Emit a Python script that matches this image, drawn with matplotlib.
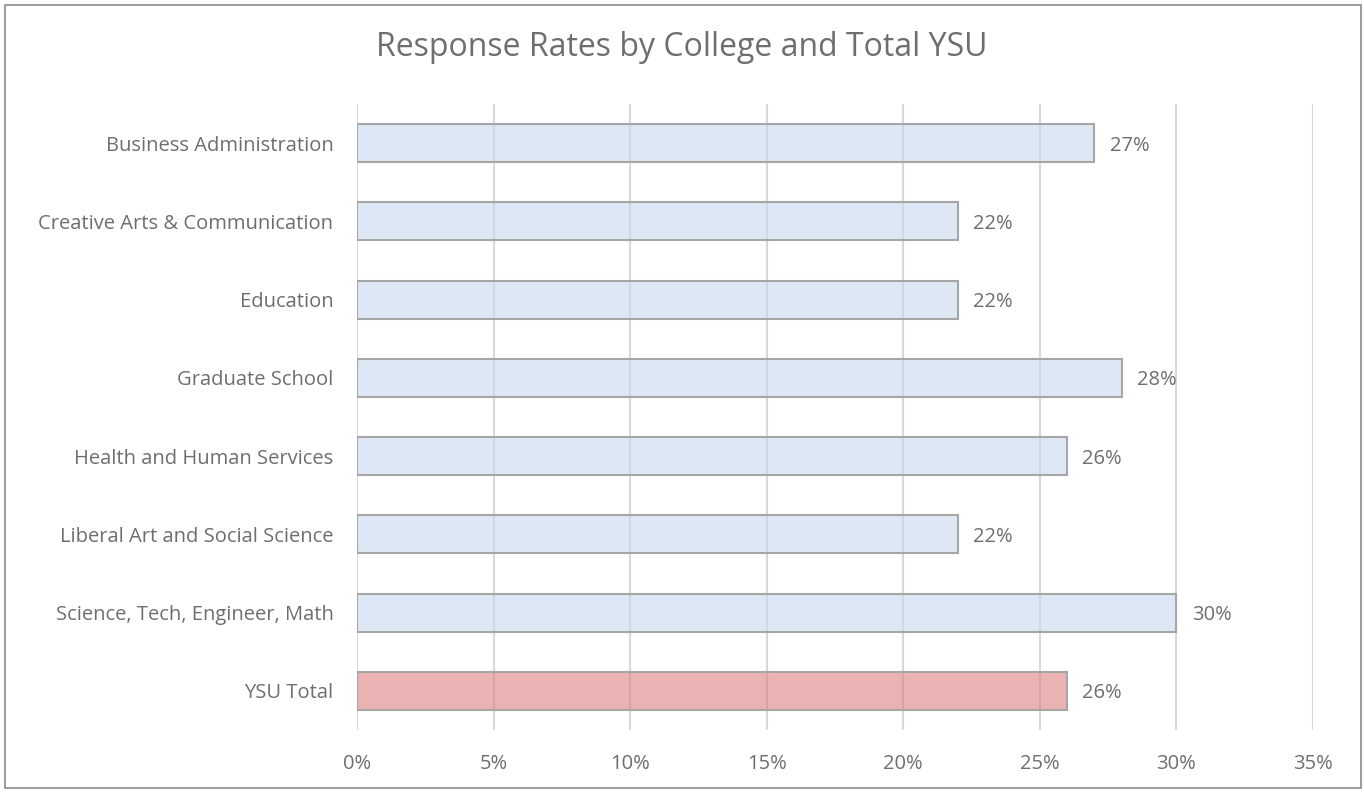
import matplotlib.pyplot as plt
from matplotlib.patches import Rectangle
from matplotlib.ticker import FuncFormatter

# data
colleges = ['Business Administration', 'Creative Arts & Communication', 'Education',
            'Graduate School', 'Health and Human Services', 'Liberal Art and Social Science',
            'Science, Tech, Engineer, Math', 'YSU Total']
rates = [27, 22, 22, 28, 26, 22, 30, 26]
xticks = [0, 5, 10, 15, 20, 25, 30, 35]

plt.rcParams['font.family'] = ['Open Sans', 'DejaVu Sans']
TEXT = '#6E6E6E'

fig = plt.figure(figsize=(13.64, 7.92), dpi=100)
ax = fig.add_axes([357 / 1364, 1 - 730 / 792, (1313 - 357) / 1364, (730 - 104) / 792])

ypos = list(range(len(colleges)))
faces = [(200 / 255, 217 / 255, 237 / 255, 0.6)] * (len(colleges) - 1) + [(220 / 255, 127 / 255, 127 / 255, 0.6)]
ax.barh(ypos, rates, height=0.485, color=faces, edgecolor='#A6A6A6', linewidth=1.5, zorder=2)

for y, v in zip(ypos, rates):
    ax.annotate('%d%%' % v, (v, y), xytext=(11, 0), textcoords='offset points',
                va='center_baseline', ha='left', fontsize=14.5, color=TEXT)

ax.set_ylim(len(colleges) - 0.5, -0.5)
ax.set_xlim(0, 35)
ax.set_yticks(ypos)
ax.set_yticklabels(colleges)
ax.set_xticks(xticks)
ax.xaxis.set_major_formatter(FuncFormatter(lambda v, p: '%d%%' % v))
ax.tick_params(length=0, labelsize=14.5, labelcolor=TEXT)
ax.tick_params(axis='y', pad=17)
ax.tick_params(axis='x', pad=17)
ax.grid(axis='x', color='#D9D9D9', linewidth=1.5, zorder=1)
ax.set_axisbelow(True)
for s in ax.spines.values():
    s.set_visible(False)

fig.text(0.5, 1 - 48 / 792, 'Response Rates by College and Total YSU', ha='center', va='center',
         fontsize=23, color=TEXT)

fig.patches.append(Rectangle((5 / 1364, 4 / 792), 1356 / 1364, 783 / 792, transform=fig.transFigure,
                             fill=False, edgecolor='#8C8C8C', linewidth=1.2))

fig.savefig('out.png', dpi=100)
